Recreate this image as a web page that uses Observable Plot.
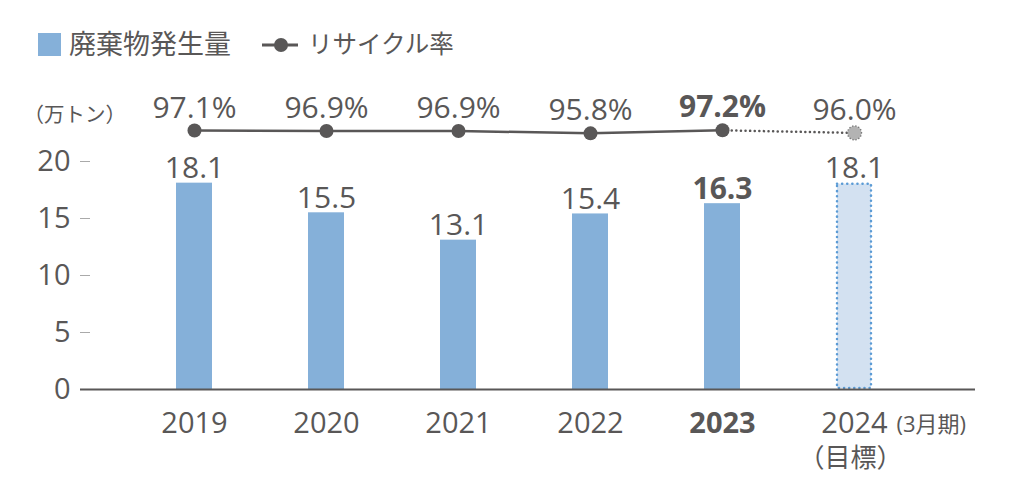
<!DOCTYPE html>
<html><head><meta charset="utf-8">
<script src="https://cdn.jsdelivr.net/npm/d3@7"></script>
<script src="https://cdn.jsdelivr.net/npm/@observablehq/plot@0.6"></script>
<style>
body{margin:0;background:#fff;font-family:"Open Sans","Noto Sans CJK JP",sans-serif;color:#595757;}
#legend{position:relative;height:75px;width:1016px;}
#legend .sw{position:absolute;left:38px;top:33px;width:23px;height:23px;background:#85b0d9;}
#legend .t{position:absolute;top:28px;line-height:32px;}
#legend svg{position:absolute;left:260px;top:34px;}
</style></head><body>
<div id="legend">
  <div class="sw"></div><div class="t" id="l1" style="left:69px;font-size:27px"></div>
  <svg width="42" height="22"><line x1="2" y1="11" x2="38" y2="11" stroke="#595757" stroke-width="3"/><circle cx="21" cy="11" r="7" fill="#595757"/></svg>
  <div class="t" id="l2" style="left:308px;font-size:24.5px"></div>
</div>
<div id="chart"></div>
<script>
const years = ["2019","2020","2021","2022","2023","2024"];
const waste = [18.1, 15.5, 13.1, 15.4, 16.3, 18.1];
const rate = [97.1, 96.9, 96.9, 95.8, 97.2, 96.0];
const wasteLabels = ["18.1","15.5","13.1","15.4","16.3","18.1"];
const rateLabels = ["97.1%","96.9%","96.9%","95.8%","97.2%","96.0%"];
const yTicks = [0, 5, 10, 15, 20];
const legendNames = ["廃棄物発生量", "リサイクル率"];
const unitLabel = "（万トン）";
const targetNote = "(3月期)";
const targetLabel = "（目標）";
const boldYear = "2023";
const targetYear = "2024";

document.getElementById("l1").textContent = legendNames[0];
document.getElementById("l2").textContent = legendNames[1];

// rate plotted on a compressed band above the bars
const rateToY = r => 22.47 + (r - 95.8) * 0.19;
const data = years.map((y, i) => ({
  year: y, waste: waste[i], rate: rate[i], rY: rateToY(rate[i]),
  wl: wasteLabels[i], rl: rateLabels[i],
  bold: y === boldYear, target: y === targetYear
}));
const actual = data.filter(d => !d.target);
const tgt = data.filter(d => d.target);
const normal = data.filter(d => !d.bold);
const bold = data.filter(d => d.bold);
const dashSeg = data.filter(d => d.year === boldYear || d.target);
const col = "#595757";
const fs = 30;

const textSet = (arr, w) => [
  Plot.text(arr, {x: "year", y: "waste", text: "wl", dy: -5, lineAnchor: "bottom", fontSize: fs, fill: col, fontWeight: w}),
  Plot.text(arr, {x: "year", y: "rY", text: "rl", dy: -13, lineAnchor: "bottom", fontSize: fs, fill: col, fontWeight: w}),
  Plot.text(arr, {x: "year", y: 0, text: "year", dy: 34, lineAnchor: "middle", fontSize: 29, fill: col, fontWeight: w})
];

const chart = Plot.plot({
  width: 1016, height: 429,
  marginLeft: 80, marginRight: 41, marginTop: 0, marginBottom: 115,
  style: {fontFamily: '"Open Sans","Noto Sans CJK JP",sans-serif', color: col, background: "#fff"},
  x: {domain: years, range: [128, 920], paddingInner: 0.727, paddingOuter: 0.3635, axis: null},
  y: {domain: [0, 20], range: [314, 86], axis: null},
  marks: [
    Plot.axisY({ticks: yTicks, tickSize: 10, dx: 10, tickPadding: 10, fontSize: 29, stroke: "#aaa", strokeWidth: 1, fill: col, label: null, tickFormat: d => String(d)}),
    Plot.barY(actual, {x: "year", y: "waste", fill: "#85b0d9"}),
    Plot.barY(tgt, {x: "year", y: "waste", fill: "#d3e1f1", stroke: "#5b9bd5", strokeWidth: 2.5, strokeDasharray: "0.1 5", strokeLinecap: "round", inset: 1}),
    Plot.ruleY([0], {stroke: "#595757", strokeWidth: 2}),
    Plot.line(actual, {x: "year", y: "rY", stroke: col, strokeWidth: 2.5}),
    Plot.line(dashSeg, {x: "year", y: "rY", stroke: col, strokeWidth: 2.5, strokeDasharray: "0.1 4.5", strokeLinecap: "round"}),
    Plot.dot(actual, {x: "year", y: "rY", r: 7, fill: col}),
    Plot.dot(tgt, {x: "year", y: "rY", r: 7, fill: "#b3b3b3", stroke: "#777", strokeWidth: 1.5, strokeDasharray: "0.1 3", strokeLinecap: "round"}),
    ...textSet(normal, "normal"),
    ...textSet(bold, "bold"),
    Plot.text(tgt, {x: "year", y: 0, text: () => targetNote, dx: 42, dy: 35, textAnchor: "start", lineAnchor: "middle", fontSize: 22, fill: col}),
    Plot.text(tgt, {x: "year", y: 0, text: () => targetLabel, dx: -4, dy: 69, lineAnchor: "middle", fontSize: 26, fill: col}),
    Plot.text([unitLabel], {frameAnchor: "top-left", dx: -57, dy: 40, lineAnchor: "middle", text: d => d, fontSize: 20.5, fill: col})
  ]
});
document.getElementById("chart").appendChild(chart);
</script>
</body></html>
